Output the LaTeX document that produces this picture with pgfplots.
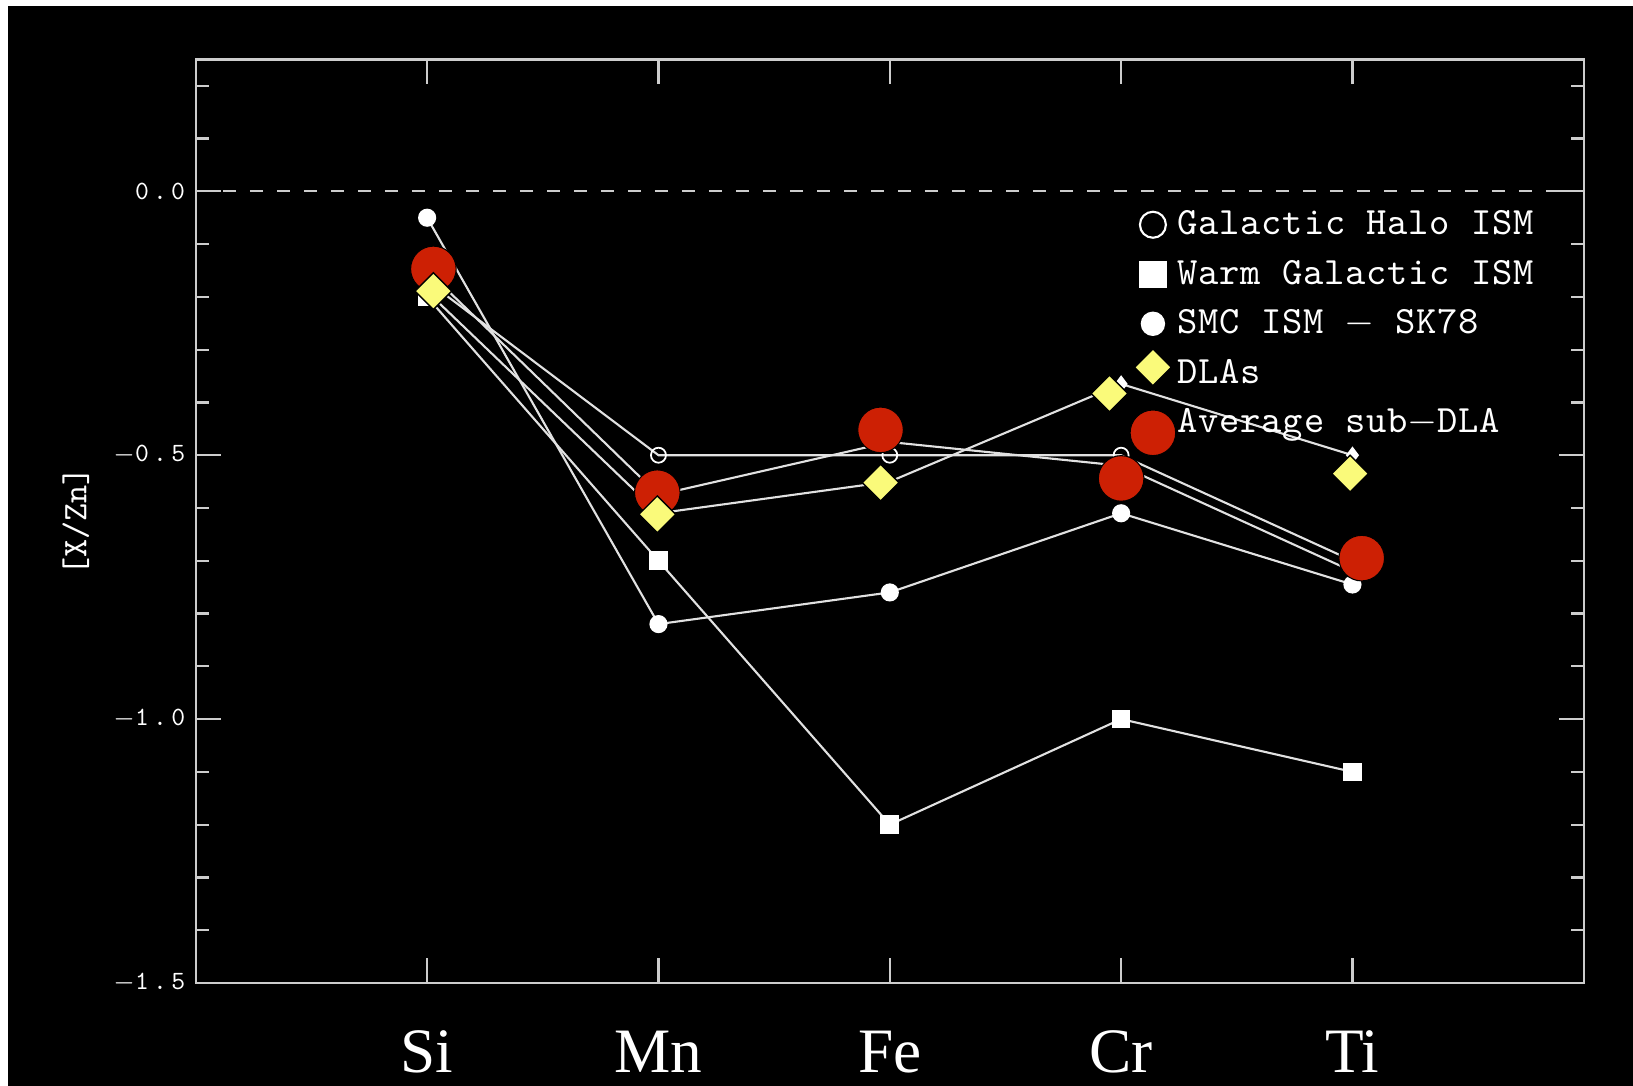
\documentclass[border=0pt]{standalone}
\usepackage{fontspec}
\usepackage{pgfplots}
\pgfplotsset{compat=1.18}
\newfontfamily\labelserif{Liberation Serif}
\newfontfamily\tickfont{lmmono10-regular.otf}[LetterSpace=16]
\newfontfamily\legfont{lmmono10-regular.otf}[LetterSpace=2]
\definecolor{axgray}{RGB}{205,205,205}
\definecolor{linegray}{RGB}{225,225,225}
\definecolor{subred}{RGB}{205,32,4}
\definecolor{dlayellow}{RGB}{250,250,122}
% legend entries show a single marker inside a fixed-size box
\pgfplotsset{legend image code/.code={%
  \begin{pgfinterruptboundingbox}\draw[#1] plot coordinates {(0mm,0mm)};\end{pgfinterruptboundingbox}%
  \pgfpathrectangle{\pgfpoint{-2.3mm}{-1mm}}{\pgfpoint{4.6mm}{2mm}}\pgfusepath{use as bounding box}}}

\begin{document}
\begin{tikzpicture}
\fill[white] (0,0) rectangle (163.3mm,108.6mm);
\fill[black] (0.83mm,0) rectangle (163.3mm,107.98mm);
\begin{axis}[
  at={(19.58mm,10.3mm)}, anchor=south west,
  scale only axis, width=138.8mm, height=92.36mm,
  xmin=0, xmax=6, ymin=-1.5, ymax=0.25,
  xtick={1,2,3,4,5}, xticklabels={Si,Mn,Fe,Cr,Ti},
  ytick={-1.5,-1,-0.5,0},
  yticklabels={$-$1.5,$-$1.0,$-$0.5,0.0},
  minor ytick={-1.4,-1.3,-1.2,-1.1,-0.9,-0.8,-0.7,-0.6,-0.4,-0.3,-0.2,-0.1,0.1,0.2},
  major tick length=2.5mm, minor tick length=1.3mm,
  axis line style={draw=axgray, line width=0.65pt},
  every tick/.style={draw=axgray, line width=0.65pt},
  xticklabel style={font=\labelserif\fontsize{18}{20}\selectfont, text=white, anchor=base, inner sep=0pt, yshift=-9mm},
  yticklabel style={font=\tickfont\fontsize{7.5}{8}\selectfont, text=white, anchor=east, inner sep=0pt, xshift=-1.0mm},
  ylabel={[X/Zn]},
  ylabel style={font=\fontsize{9.8}{11}\ttfamily, text=white, at={(axis description cs:-0.0865,0.5)}, anchor=center},
  legend cell align=left,
  legend style={draw=none, fill=none, text=white, font=\legfont\fontsize{11}{13}\selectfont,
    at={(axis cs:4.038,-0.024)}, anchor=north west, inner sep=0pt, outer sep=0pt,
    column sep=0pt, row sep=0.8mm,
    nodes={inner sep=0.5pt, text height=2.9mm, text depth=0.9mm}},
]
% zero reference level
\addplot[axgray, line width=0.6pt, dash pattern=on 1.35mm off 1.35mm, forget plot] coordinates {(0,0) (6,0)};

% Galactic Halo ISM
\addplot[linegray, line width=0.6pt, mark=o, mark size=0.75mm, mark options={white, line width=0.5pt}, forget plot]
  coordinates {(1,-0.17) (2,-0.50) (3,-0.50) (4,-0.50) (5,-0.70)};
% Warm Galactic ISM
\addplot[linegray, line width=0.6pt, mark=square*, mark size=0.83mm, mark options={white}, forget plot]
  coordinates {(1,-0.20) (2,-0.70) (3,-1.20) (4,-1.00) (5,-1.10)};
% SMC ISM - SK78
\addplot[linegray, line width=0.6pt, mark=*, mark size=0.8mm, mark options={white}, forget plot]
  coordinates {(1,-0.05) (2,-0.82) (3,-0.76) (4,-0.61) (5,-0.745)};
% DLA sample
\addplot[linegray, line width=0.6pt, mark=diamond*, mark size=0.7mm, mark options={white}, forget plot]
  coordinates {(1,-0.19) (2,-0.61) (3,-0.55) (4,-0.365) (5,-0.50)};
% sub-DLA sample
\addplot[linegray, line width=0.6pt, mark=*, mark size=0.5mm, mark options={white}, forget plot]
  coordinates {(1,-0.15) (2,-0.575) (3,-0.475) (4,-0.52) (5,-0.72)};

% Average sub-DLA
\addplot[only marks, mark=*, mark size=2.28mm, mark options={fill=subred, draw=black, line width=0.3pt}, forget plot]
  coordinates {(1.027,-0.147) (1.995,-0.571) (2.96,-0.452) (4.0,-0.544) (5.04,-0.695)};
% DLAs
\addplot[only marks, mark=square*, mark size=1.3mm, mark options={rotate=45, fill=dlayellow, draw=none}, forget plot]
  coordinates {(1.027,-0.189) (1.995,-0.612) (2.96,-0.552) (3.95,-0.383) (4.99,-0.535)};

\addlegendimage{white, mark=o, mark size=1.3mm, mark options={line width=0.6pt}}
\addlegendimage{white, mark=square*, mark size=1.3mm}
\addlegendimage{white, mark=*, mark size=1.15mm}
\addlegendimage{yshift=0.6mm, mark=square*, mark size=1.3mm, mark options={rotate=45, fill=dlayellow, draw=none}}
\addlegendimage{yshift=-1mm, mark=*, mark size=2.28mm, mark options={fill=subred, draw=black, line width=0.3pt}}
\legend{Galactic Halo ISM, Warm Galactic ISM, SMC ISM $-$ SK78, DLAs, Average sub$-$DLA}
\end{axis}
\pgfresetboundingbox
\useasboundingbox (0,0) rectangle (163.3mm,108.6mm);
\end{tikzpicture}
\end{document}
